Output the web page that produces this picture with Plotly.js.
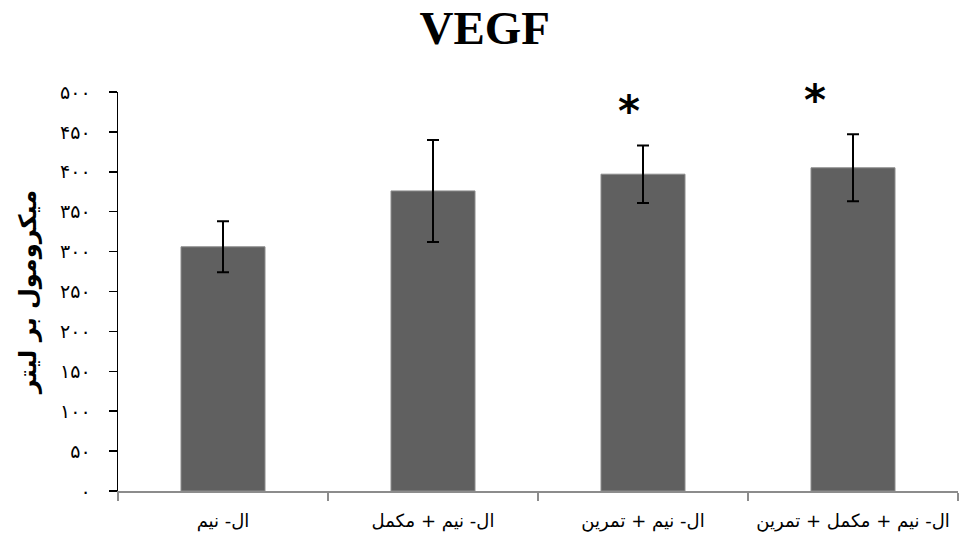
<!DOCTYPE html>
<html>
<head>
<meta charset="utf-8">
<script src="https://cdn.plot.ly/plotly-3.0.1.min.js"></script>
<style>html,body{margin:0;padding:0;background:#fff;}#chart{width:960px;height:547px;}</style>
</head>
<body>
<div id="chart"></div>
<script>
const categories = ["ال- نیم", "ال- نیم + مکمل", "ال- نیم + تمرین", "ال- نیم + مکمل + تمرین"];
const means = [306, 376, 397, 405];
const errors = [32, 64, 36, 42];
const yTickVals = [0, 50, 100, 150, 200, 250, 300, 350, 400, 450, 500];
const yTickText = ["۰", "۵۰", "۱۰۰", "۱۵۰", "۲۰۰", "۲۵۰", "۳۰۰", "۳۵۰", "۴۰۰", "۴۵۰", "۵۰۰"];
const starCategories = [2, 3];
const starLabel = "<b>*</b>";

const persianFont = "DejaVu Sans, sans-serif";

const trace = {
  type: "bar",
  x: categories,
  y: means,
  marker: {color: "#606060", line: {color: "#8c8c8c", width: 1}},
  error_y: {type: "data", array: errors, visible: true, color: "#000", thickness: 2, width: 6},
  hoverinfo: "none"
};

const starX = [0.608, 0.830];
const starY = [1.0 - (101.7 - 91.5) / 400, 1.0 + (91.5 - 90.7) / 400];
const annotations = starCategories.map((c, i) => ({
  xref: "paper", yref: "paper",
  x: starX[i], y: starY[i],
  xanchor: "center", yanchor: "middle",
  text: starLabel, showarrow: false,
  font: {family: persianFont, size: 42, color: "#000"},
  yshift: -9
}));

const layout = {
  width: 960, height: 547,
  margin: {l: 118, r: 2, t: 91.5, b: 55.5},
  paper_bgcolor: "#fff", plot_bgcolor: "#fff",
  showlegend: false,
  bargap: 0.6,
  title: {
    text: "<b>VEGF</b>",
    font: {family: "Liberation Serif, Times New Roman, serif", size: 47, color: "#000"},
    x: 0.505, xanchor: "center", y: 0.95, yanchor: "middle", yref: "container"
  },
  xaxis: {
    type: "category",
    showline: true, linecolor: "#8c8c8c", linewidth: 1.5,
    ticks: "outside", tickson: "boundaries", ticklen: 8, tickcolor: "#8c8c8c", tickwidth: 1.5,
    showgrid: false, zeroline: false,
    tickangle: 0, automargin: false,
    tickfont: {family: persianFont, size: 18, color: "#000"},
    ticklabelstandoff: 13
  },
  yaxis: {
    range: [0, 500],
    tickvals: yTickVals, ticktext: yTickText,
    showline: true, linecolor: "#000", linewidth: 1.5,
    ticks: "outside", ticklen: 8, tickcolor: "#000", tickwidth: 1.5,
    showgrid: false, zeroline: false,
    tickfont: {family: persianFont, size: 19, color: "#000"},
    ticklabelstandoff: 14,
    title: {text: "<b>میکرومول بر لیتر</b>", font: {family: persianFont, size: 24, color: "#000"}, standoff: 16}
  },
  annotations: annotations
};

Plotly.newPlot("chart", [trace], layout, {displayModeBar: false, staticPlot: true});
</script>
</body>
</html>
